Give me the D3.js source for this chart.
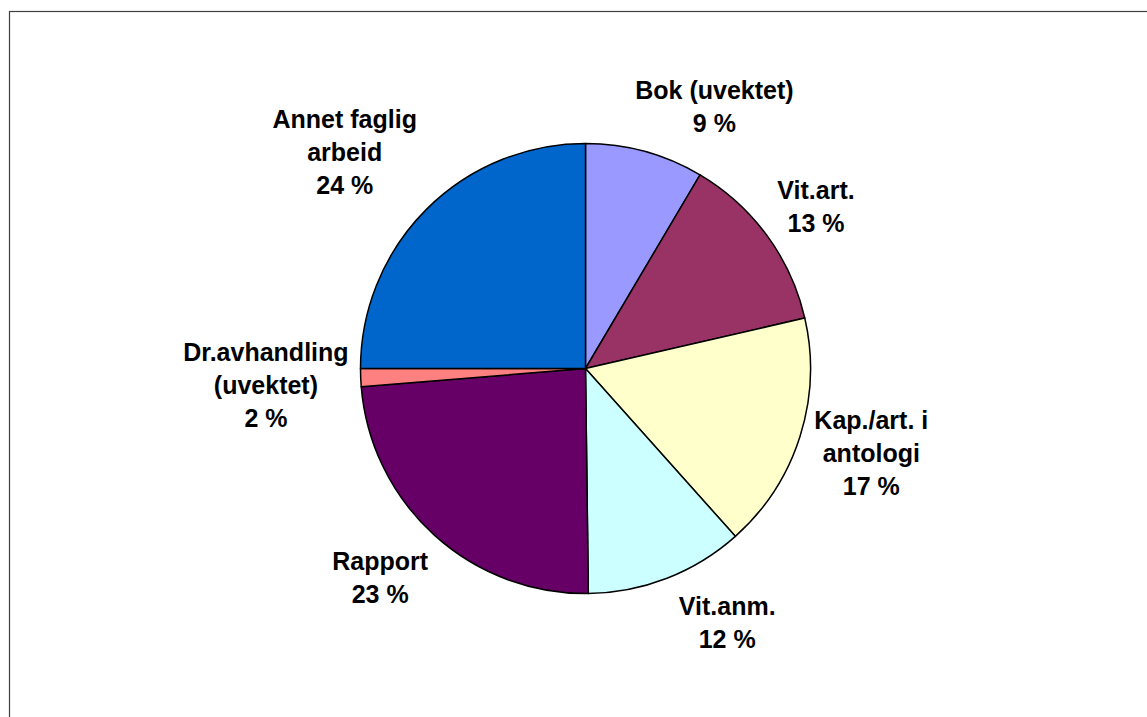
<!DOCTYPE html>
<html>

<head>
    <meta charset="utf-8">
    <style>
        body {
            margin: 0;
            background: white;
        }

        svg {
            display: block;
        }

        .label {
            font-family: Arial, 'Liberation Sans', sans-serif;
            font-size: 25px;
            font-weight: bold;
            fill: black;
        }
    </style>
</head>

<body>
    <svg width="1147" height="717" id="chart"></svg>
</body>

<script src="https://d3js.org/d3.v7.min.js"></script>

<script>

    // data, clockwise from 12 o'clock
    let categories = ["Bok (uvektet)", "Vit.art.", "Kap./art. i antologi", "Vit.anm.", "Rapport", "Dr.avhandling (uvektet)", "Annet faglig arbeid"]
    let shares = [8.5, 12.9, 17.0, 11.4, 23.9, 1.3, 25.0]
    let percentLabels = ["9 %", "13 %", "17 %", "12 %", "23 %", "2 %", "24 %"]
    let labelLines = [
        ["Bok (uvektet)"],
        ["Vit.art."],
        ["Kap./art. i", "antologi"],
        ["Vit.anm."],
        ["Rapport"],
        ["Dr.avhandling", "(uvektet)"],
        ["Annet faglig", "arbeid"]
    ]
    let colors = ["#9999FF", "#993366", "#FFFFCC", "#CCFFFF", "#660066", "#FF8080", "#0066CC"]

    // label layout: angular nudge (deg) from slice middle, distance from centre (px)
    let labelNudge = [10.9, 1, -1.2, -7.9, 2.2, -0.6, -3]
    let labelDist = [292, 282, 298, 291, 293, 320, 324]

    let cx = 585.5
    let cy = 368.5
    let radius = 225
    let lineHeight = 33

    let svg = d3.select("#chart")

    // frame (right and bottom edges fall outside the picture)
    svg.append("rect")
        .attr("x", 9.5)
        .attr("y", 11.5)
        .attr("width", 1200)
        .attr("height", 800)
        .attr("fill", "white")
        .attr("stroke", "#404040")
        .attr("stroke-width", 1.2)

    let pie = d3.pie()
        .sort(null)
        .value(d => d)

    let arcs = pie(shares)

    let arc = d3.arc()
        .innerRadius(0)
        .outerRadius(radius)

    let g = svg.append("g")
        .attr("transform", "translate(" + cx + "," + cy + ")")

    g.selectAll("path")
        .data(arcs)
        .join("path")
        .attr("d", arc)
        .attr("fill", (d, i) => colors[i])
        .attr("stroke", "black")
        .attr("stroke-width", 1.5)
        .attr("stroke-linejoin", "round")

    let labels = g.selectAll("text")
        .data(arcs)
        .join("text")
        .attr("class", "label")
        .attr("text-anchor", "middle")
        .each(function (d, i) {
            let mid = (d.startAngle + d.endAngle) / 2 + labelNudge[i] * Math.PI / 180
            let x = Math.sin(mid) * labelDist[i]
            let y = -Math.cos(mid) * labelDist[i]
            let lines = labelLines[i].concat([percentLabels[i]])
            let firstBase = y + 9 - (lines.length - 1) * lineHeight / 2
            d3.select(this)
                .selectAll("tspan")
                .data(lines)
                .join("tspan")
                .attr("x", x)
                .attr("y", (t, j) => firstBase + j * lineHeight)
                .text(t => t)
        })

</script>

</html>
